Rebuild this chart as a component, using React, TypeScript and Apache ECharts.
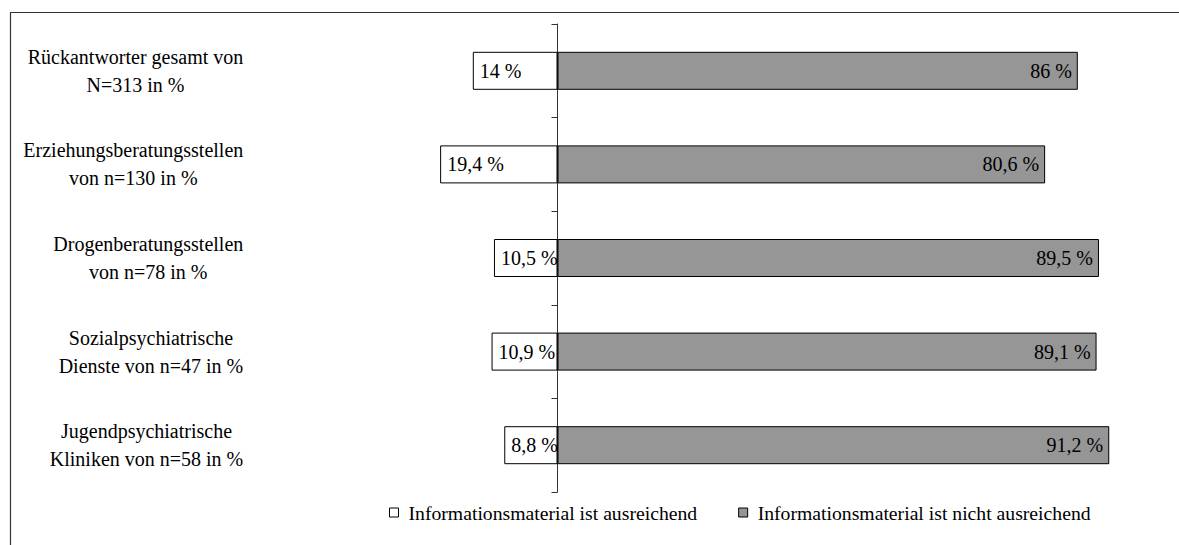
import React, { useEffect, useRef } from "react";
import * as echarts from "echarts";

const categories = [
  "Rückantworter gesamt von\nN=313 in %",
  "Erziehungsberatungsstellen\nvon n=130 in %",
  "Drogenberatungsstellen\nvon n=78 in %",
  "Sozialpsychiatrische\nDienste von n=47 in %",
  "Jugendpsychiatrische\nKliniken von n=58 in %",
];

const sufficient = [14, 19.4, 10.5, 10.9, 8.8];
const insufficient = [86, 80.6, 89.5, 89.1, 91.2];

const seriesNames = [
  "Informationsmaterial ist ausreichend",
  "Informationsmaterial ist nicht ausreichend",
];

const FONT = "Liberation Serif";

const pct = (v: number) => `${String(Math.abs(v)).replace(".", ",")} %`;

export default function App() {
  const ref = useRef<HTMLDivElement>(null);

  useEffect(() => {
    if (!ref.current) return;
    const chart = echarts.init(ref.current, undefined, { renderer: "svg" });

    chart.setOption({
      animation: false,
      backgroundColor: "#ffffff",
      textStyle: { fontFamily: FONT, color: "#000" },
      grid: {
        left: 406.25,
        right: 46.75,
        top: 24,
        bottom: 53,
        containLabel: false,
        outerBoundsMode: "none",
      },
      xAxis: {
        type: "value",
        min: -25,
        max: 95,
        show: false,
      },
      yAxis: {
        type: "category",
        inverse: true,
        data: categories,
        axisLine: { show: true, onZero: true, lineStyle: { color: "#333", width: 1 } },
        axisTick: { show: true, length: 6, lineStyle: { color: "#333" } },
        axisLabel: {
          // labels are laid out from the grid's left edge
          margin: 163,
          align: "right",
          fontFamily: FONT,
          fontSize: 20,
          formatter: (v: string) =>
            v
              .split("\n")
              .map((l) => `{c|${l}}`)
              .join("\n"),
          rich: {
            c: {
              align: "center",
              fontFamily: FONT,
              fontSize: 20,
              lineHeight: 28,
              color: "#000",
            },
          },
        },
        splitLine: { show: false },
      },
      legend: {
        left: 389,
        top: 502.5,
        padding: 0,
        itemWidth: 9,
        itemHeight: 9,
        itemGap: 41,
        icon: "rect",
        textStyle: { fontFamily: FONT, fontSize: 19.7, color: "#000", padding: [0, 0, 0, 5] },
        data: [
          { name: seriesNames[0], itemStyle: { color: "#ffffff", borderColor: "#000", borderWidth: 1 } },
          { name: seriesNames[1], itemStyle: { color: "#969696", borderColor: "#000", borderWidth: 1 } },
        ],
      },
      series: [
        {
          name: seriesNames[0],
          type: "bar",
          stack: "total",
          barWidth: 38,
          data: sufficient.map((v) => -v),
          itemStyle: { color: "#ffffff", borderColor: "#000", borderWidth: 1 },
          label: {
            show: true,
            position: "insideLeft",
            distance: 7,
            formatter: (p: any) => pct(p.value),
            fontFamily: FONT,
            fontSize: 20,
            color: "#000",
          },
        },
        {
          name: seriesNames[1],
          type: "bar",
          stack: "total",
          barWidth: 38,
          data: insufficient,
          itemStyle: { color: "#969696", borderColor: "#000", borderWidth: 1 },
          label: {
            show: true,
            position: "insideRight",
            distance: 6,
            formatter: (p: any) => pct(p.value),
            fontFamily: FONT,
            fontSize: 20,
            color: "#000",
          },
        },
      ],
      graphic: [
        {
          type: "line",
          shape: { x1: 10, y1: 12.5, x2: 1179, y2: 12.5 },
          style: { stroke: "#333", lineWidth: 1.2 },
        },
        {
          type: "line",
          shape: { x1: 10.5, y1: 12, x2: 10.5, y2: 545 },
          style: { stroke: "#333", lineWidth: 1.2 },
        },
      ],
    });

    return () => chart.dispose();
  }, []);

  return (
    <div
      ref={ref}
      style={{ position: "fixed", left: 0, top: 0, width: 1179, height: 545 }}
    />
  );
}
